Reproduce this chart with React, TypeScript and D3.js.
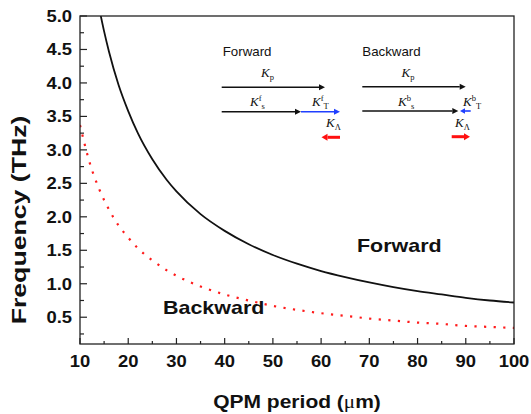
import React from "react";
import * as d3 from "d3";

const forwardPeriod = [14, 15, 16, 18, 20, 22, 25, 28, 30, 35, 40, 45, 50, 55, 60, 65, 70, 75, 80, 85, 90, 95, 100];
const forwardFreq = [5.11, 4.77, 4.47, 3.97, 3.58, 3.25, 2.86, 2.55, 2.38, 2.04, 1.79, 1.59, 1.43, 1.30, 1.19, 1.10, 1.02, 0.95, 0.89, 0.84, 0.79, 0.75, 0.72];
const backwardPeriod = [10, 12, 14, 16, 18, 20, 22, 25, 28, 30, 35, 40, 45, 50, 55, 60, 65, 70, 75, 80, 85, 90, 95, 100];
const backwardFreq = [3.37, 2.81, 2.41, 2.11, 1.87, 1.69, 1.53, 1.35, 1.20, 1.12, 0.96, 0.84, 0.75, 0.67, 0.61, 0.56, 0.52, 0.48, 0.45, 0.42, 0.40, 0.37, 0.355, 0.34];
const xTickLabels = ["10", "20", "30", "40", "50", "60", "70", "80", "90", "100"];
const yTickLabels = ["0.5", "1.0", "1.5", "2.0", "2.5", "3.0", "3.5", "4.0", "4.5", "5.0"];

const W = 531, H = 414;
const M = { left: 80, right: 514, top: 16, bottom: 344 };
const SX = 1.13;
const FONT = "'Liberation Sans', Arial, sans-serif";
const SERIF = "'Liberation Serif', 'Times New Roman', serif";

function SText({ x, y, anchor = "start", size, weight = "bold", rotate = 0, sx = SX, children, fill = "#111" }: any) {
  return (
    <text
      transform={`translate(${x},${y}) rotate(${rotate}) scale(${sx},1)`}
      textAnchor={anchor}
      fontSize={size}
      fontWeight={weight}
      fontFamily={FONT}
      fill={fill}
    >
      {children}
    </text>
  );
}

function Arrow({ x1, x2, y, color, width = 1.6, head = 6, hw = 3 }: any) {
  const dir = x2 > x1 ? 1 : -1;
  const bx = x2 - dir * head;
  return (
    <g>
      <line x1={x1} x2={bx} y1={y} y2={y} stroke={color} strokeWidth={width} />
      <path d={`M${x2},${y} L${bx},${y - hw} L${bx},${y + hw} Z`} fill={color} />
    </g>
  );
}

function KLabel({ x, y, sup, sub }: any) {
  return (
    <text x={x} y={y} fontFamily={SERIF} fontSize={13} fill="#111">
      <tspan fontStyle="italic">K</tspan>
      {sup ? (
        <tspan fontSize={8.5} dy={-5} dx={0}>{sup}</tspan>
      ) : null}
      {sub ? (
        <tspan fontSize={8.5} dy={sup ? 8 : 3} dx={0}>{sub}</tspan>
      ) : null}
    </text>
  );
}

export default function App() {
  const x = d3.scaleLinear().domain([10, 100]).range([M.left, M.right]);
  const y = d3.scaleLinear().domain([0.1, 5.0]).range([M.bottom, M.top]);

  const line = d3
    .line<[number, number]>()
    .x((d) => x(d[0]))
    .y((d) => y(d[1]))
    .curve(d3.curveMonotoneX);

  const fwd = line(forwardPeriod.map((p, i) => [p, forwardFreq[i]] as [number, number])) || "";
  const bwd = line(backwardPeriod.map((p, i) => [p, backwardFreq[i]] as [number, number])) || "";

  const xMajor = xTickLabels.map((t) => +t);
  const xMinor = d3.range(15, 100, 10);
  const yMajor = yTickLabels.map((t) => +t);
  const yMinor = d3.range(0.25, 5, 0.5);

  return (
    <svg width={W} height={H} style={{ position: "absolute", left: 0, top: 0, background: "#fff" }}>
      <defs>
        <clipPath id="plot">
          <rect x={M.left} y={M.top} width={M.right - M.left} height={M.bottom - M.top} />
        </clipPath>
      </defs>
      <rect width={W} height={H} fill="#fff" />

      <g clipPath="url(#plot)">
        <path d={bwd} fill="none" stroke="#ff1a1a" strokeWidth={2.2} strokeDasharray="2.2 7.4" />
        <path d={fwd} fill="none" stroke="#111" strokeWidth={1.8} />
      </g>

      {/* frame */}
      <rect x={M.left} y={M.top} width={M.right - M.left} height={M.bottom - M.top} fill="none" stroke="#222" strokeWidth={1.3} />

      {/* x ticks */}
      {xMajor.map((v) => (
        <line key={"xM" + v} x1={x(v)} x2={x(v)} y1={M.bottom} y2={M.bottom - 6} stroke="#222" strokeWidth={1.2} />
      ))}
      {xMinor.map((v) => (
        <line key={"xm" + v} x1={x(v)} x2={x(v)} y1={M.bottom} y2={M.bottom - 3} stroke="#222" strokeWidth={1.2} />
      ))}
      {xTickLabels.map((t) => (
        <SText key={"xl" + t} x={x(+t)} y={367} anchor="middle" size={16.3}>
          {t}
        </SText>
      ))}

      {/* y ticks */}
      {yMajor.map((v) => (
        <line key={"yM" + v} x1={M.left} x2={M.left + 7} y1={y(v)} y2={y(v)} stroke="#222" strokeWidth={1.2} />
      ))}
      {yMinor.map((v) => (
        <line key={"ym" + v} x1={M.left} x2={M.left + 4} y1={y(v)} y2={y(v)} stroke="#222" strokeWidth={1.2} />
      ))}
      {yTickLabels.map((t) => (
        <SText key={"yl" + t} x={72} y={y(+t) + 6} anchor="end" size={16.3}>
          {t}
        </SText>
      ))}

      {/* axis titles */}
      <SText x={297} y={408} anchor="middle" size={18.6}>
        QPM period (<tspan fontFamily={SERIF} fontWeight="normal">μ</tspan>m)
      </SText>
      <SText x={26} y={220} anchor="middle" size={20.5} rotate={-90} sx={1.3}>
        Frequency (THz)
      </SText>

      {/* curve labels */}
      <SText x={357} y={252} size={19}>Forward</SText>
      <SText x={163} y={314} size={19}>Backward</SText>

      {/* inset: forward */}
      <SText x={222.7} y={56} size={13.3} weight="normal" sx={1.0}>Forward</SText>
      <KLabel x={261} y={77} sub="p" />
      <Arrow x1={221.7} x2={325} y={87.3} color="#111" />
      <KLabel x={250} y={106} sup="f" sub="s" />
      <Arrow x1={221.7} x2={301} y={111.7} color="#111" />
      <Arrow x1={301} x2={340} y={111.7} color="#1f3fff" />
      <KLabel x={312} y={106} sup="f" sub="T" />
      <KLabel x={326} y={127} sub="Λ" />
      <Arrow x1={340} x2={321.5} y={137.3} color="#ff1010" width={3} head={6} hw={3.5} />

      {/* inset: backward */}
      <SText x={362.3} y={56} size={13.3} weight="normal" sx={1.0}>Backward</SText>
      <KLabel x={401.5} y={77} sub="p" />
      <Arrow x1={362.3} x2={465.7} y={86.7} color="#111" />
      <KLabel x={398} y={106} sup="b" sub="s" />
      <Arrow x1={362.3} x2={458.3} y={111} color="#111" />
      <Arrow x1={470.7} x2={460} y={111} color="#1f3fff" head={5} hw={2.8} />
      <KLabel x={463} y={106} sup="b" sub="T" />
      <KLabel x={455} y={127} sub="Λ" />
      <Arrow x1={451.7} x2={470} y={136.7} color="#ff1010" width={3} head={6} hw={3.5} />
    </svg>
  );
}
